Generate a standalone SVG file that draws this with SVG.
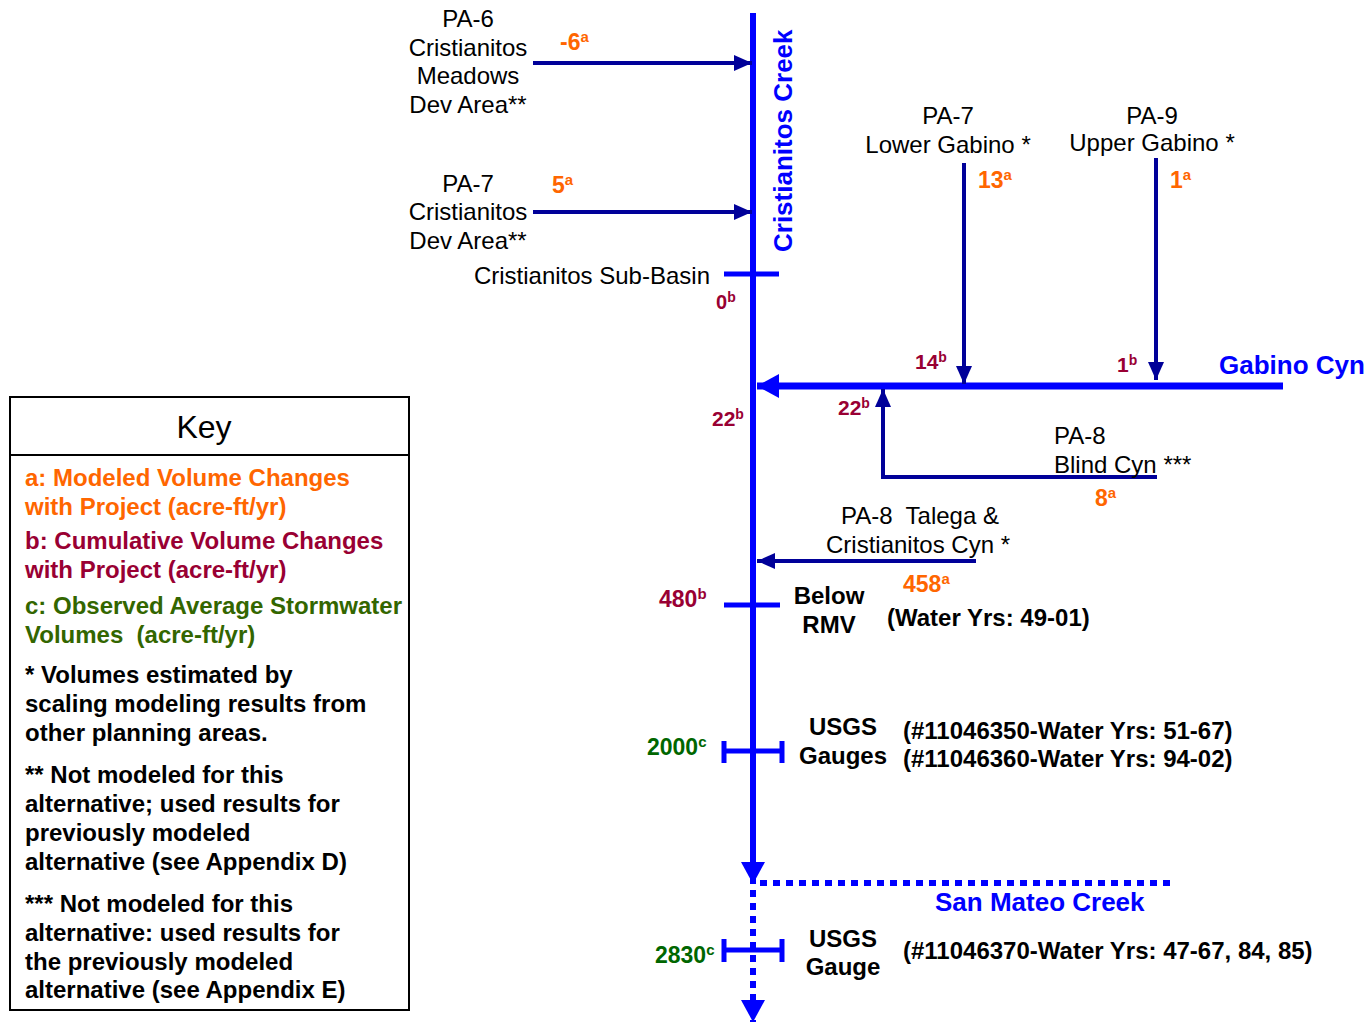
<svg xmlns="http://www.w3.org/2000/svg" width="1372" height="1023" viewBox="0 0 1372 1023">
<style>
text{font-family:"Liberation Sans",Arial,sans-serif}
.lb{font-size:24px;fill:#000}
.bd{font-size:24px;font-weight:bold;fill:#000}
.c{text-anchor:middle}
.num{font-weight:bold;font-size:23px}
.sup{font-size:15px}
.or{fill:#FF6600}
.cr{fill:#990033}
.gr{fill:#006600}
.kg{fill:#336600}
.river{font-size:26px;font-weight:bold;fill:#0000FF}
.navy{stroke:#000099;stroke-width:4;fill:none}
.blue{stroke:#0000FF;fill:none}
.dot{stroke:#0000FF;stroke-width:6;stroke-dasharray:7 6;fill:none}
</style>
<defs>
<marker id="na" markerUnits="userSpaceOnUse" markerWidth="18" markerHeight="16" refX="18" refY="8" orient="auto"><path d="M0,0 L18,8 L0,16 z" fill="#000099"/></marker>
<marker id="ba" markerUnits="userSpaceOnUse" markerWidth="22" markerHeight="24" refX="22" refY="12" orient="auto"><path d="M0,0 L22,12 L0,24 z" fill="#0000FF"/></marker>
</defs>
<rect width="1372" height="1023" fill="#fff"/>
<g id="connectors">
<line class="blue" x1="753" y1="13" x2="753" y2="884" stroke-width="6" marker-end="url(#ba)"/>
<line class="blue" x1="1283" y1="386" x2="757" y2="386" stroke-width="7" marker-end="url(#ba)"/>
<line class="dot" x1="760" y1="883" x2="1173" y2="883"/>
<line class="dot" x1="753" y1="890" x2="753" y2="1022" marker-end="url(#ba)"/>
<line class="blue" x1="724" y1="274" x2="779" y2="274" stroke-width="5"/>
<line class="blue" x1="724" y1="605" x2="780" y2="605" stroke-width="5"/>
<path class="blue" d="M724,751 H782 M724,741 V763 M782,741 V763" stroke-width="5"/>
<path class="blue" d="M724,950 H782 M724,939 V962 M782,939 V962" stroke-width="5"/>
<line class="navy" x1="533" y1="63" x2="752" y2="63" marker-end="url(#na)"/>
<line class="navy" x1="533" y1="212" x2="752" y2="212" marker-end="url(#na)"/>
<line class="navy" x1="964" y1="163" x2="964" y2="384" marker-end="url(#na)"/>
<line class="navy" x1="1156" y1="158" x2="1156" y2="380" marker-end="url(#na)"/>
<polyline class="navy" points="1157,477 883,477 883,389" marker-end="url(#na)"/>
<line class="navy" x1="976" y1="561" x2="757" y2="561" marker-end="url(#na)"/>
</g>
<g id="rivers">
<text class="river" transform="translate(792,252) rotate(-90)">Cristianitos Creek</text>
<text class="river" x="1219" y="374">Gabino Cyn</text>
<text class="river" x="935" y="911">San Mateo Creek</text>
</g>
<g id="pa6">
<text class="lb c" x="468" y="27">PA-6</text>
<text class="lb c" x="468" y="56">Cristianitos</text>
<text class="lb c" x="468" y="84">Meadows</text>
<text class="lb c" x="468" y="113">Dev Area**</text>
<text class="num or" x="560" y="50">-6<tspan class="sup" dy="-8">a</tspan></text>
</g>
<g id="pa7-dev">
<text class="lb c" x="468" y="192">PA-7</text>
<text class="lb c" x="468" y="220">Cristianitos</text>
<text class="lb c" x="468" y="249">Dev Area**</text>
<text class="num or" x="552" y="193">5<tspan class="sup" dy="-8">a</tspan></text>
</g>
<g id="subbasin">
<text class="lb" x="710" y="284" text-anchor="end">Cristianitos Sub-Basin</text>
<text class="num cr" x="716" y="309" style="font-size:20px">0<tspan class="sup" dy="-7" style="font-size:14px">b</tspan></text>
</g>
<g id="pa7-lower">
<text class="lb c" x="948" y="124">PA-7</text>
<text class="lb c" x="948" y="153">Lower Gabino *</text>
<text class="num or" x="978" y="188">13<tspan class="sup" dy="-8">a</tspan></text>
<text class="num cr" x="915" y="369" style="font-size:21px">14<tspan class="sup" dy="-7" style="font-size:14px">b</tspan></text>
</g>
<g id="pa9">
<text class="lb c" x="1152" y="124">PA-9</text>
<text class="lb c" x="1152" y="151">Upper Gabino *</text>
<text class="num or" x="1170" y="188">1<tspan class="sup" dy="-8">a</tspan></text>
<text class="num cr" x="1117" y="372" style="font-size:21px">1<tspan class="sup" dy="-7" style="font-size:14px">b</tspan></text>
</g>
<g id="junction">
<text class="num cr" x="712" y="426" style="font-size:21px">22<tspan class="sup" dy="-7" style="font-size:14px">b</tspan></text>
<text class="num cr" x="838" y="415" style="font-size:21px">22<tspan class="sup" dy="-7" style="font-size:14px">b</tspan></text>
</g>
<g id="pa8-blind">
<text class="lb" x="1054" y="444">PA-8</text>
<text class="lb" x="1054" y="473">Blind Cyn ***</text>
<text class="num or" x="1095" y="506">8<tspan class="sup" dy="-8">a</tspan></text>
</g>
<g id="pa8-talega">
<text class="lb c" x="920" y="524" xml:space="preserve">PA-8  Talega &amp;</text>
<text class="lb c" x="918" y="553">Cristianitos Cyn *</text>
<text class="num or" x="903" y="592">458<tspan class="sup" dy="-8">a</tspan></text>
</g>
<g id="below-rmv">
<text class="num cr" x="659" y="607">480<tspan class="sup" dy="-8">b</tspan></text>
<text class="bd c" x="829" y="604">Below</text>
<text class="bd c" x="829" y="633">RMV</text>
<text class="bd" x="887" y="626">(Water Yrs: 49-01)</text>
</g>
<g id="usgs-gauges">
<text class="num gr" x="647" y="755">2000<tspan class="sup" dy="-8">c</tspan></text>
<text class="bd c" x="843" y="735">USGS</text>
<text class="bd c" x="843" y="764">Gauges</text>
<text class="bd" x="903" y="739">(#11046350-Water Yrs: 51-67)</text>
<text class="bd" x="903" y="767">(#11046360-Water Yrs: 94-02)</text>
</g>
<g id="usgs-gauge">
<text class="num gr" x="655" y="963">2830<tspan class="sup" dy="-8">c</tspan></text>
<text class="bd c" x="843" y="947">USGS</text>
<text class="bd c" x="843" y="975">Gauge</text>
<text class="bd" x="903" y="959">(#11046370-Water Yrs: 47-67, 84, 85)</text>
</g>
<g id="key">
<rect x="10" y="397" width="399" height="613" fill="#fff" stroke="#000" stroke-width="2"/>
<line x1="10" y1="455" x2="409" y2="455" stroke="#000" stroke-width="2"/>
<text x="204" y="438" class="c" style="font-size:32px">Key</text>
<text class="bd or" x="25" y="486">a: Modeled Volume Changes</text>
<text class="bd or" x="25" y="515">with Project (acre-ft/yr)</text>
<text class="bd cr" x="25" y="549">b: Cumulative Volume Changes</text>
<text class="bd cr" x="25" y="578">with Project (acre-ft/yr)</text>
<text class="bd kg" x="25" y="614">c: Observed Average Stormwater</text>
<text class="bd kg" x="25" y="643" xml:space="preserve">Volumes  (acre-ft/yr)</text>
<text class="bd" x="25" y="683">* Volumes estimated by</text>
<text class="bd" x="25" y="712">scaling modeling results from</text>
<text class="bd" x="25" y="741">other planning areas.</text>
<text class="bd" x="25" y="783">** Not modeled for this</text>
<text class="bd" x="25" y="812">alternative; used results for</text>
<text class="bd" x="25" y="841">previously modeled</text>
<text class="bd" x="25" y="870">alternative (see Appendix D)</text>
<text class="bd" x="25" y="912">*** Not modeled for this</text>
<text class="bd" x="25" y="941">alternative: used results for</text>
<text class="bd" x="25" y="970">the previously modeled</text>
<text class="bd" x="25" y="998">alternative (see Appendix E)</text>
</g>
</svg>
